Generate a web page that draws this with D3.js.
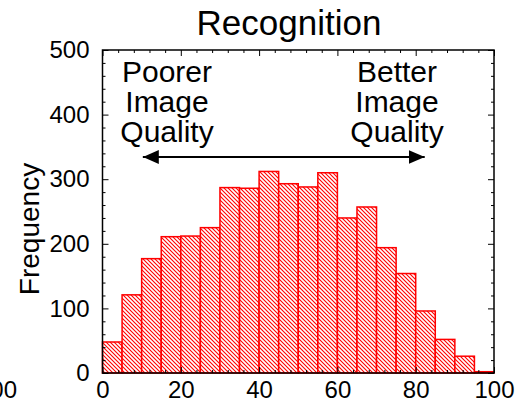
<!DOCTYPE html>
<html>
<head>
<meta charset="utf-8">
<script src="https://cdn.jsdelivr.net/npm/d3@7"></script>
<style>
  html, body { margin: 0; padding: 0; background: #fff; }
  svg { display: block; font-family: "Liberation Sans", Arial, sans-serif; }
</style>
</head>
<body>
<svg id="chart" width="532" height="406"></svg>
<script>
// ---- data ----
const binStarts = [0, 5, 10, 15, 20, 25, 30, 35, 40, 45, 50, 55, 60, 65, 70, 75, 80, 85, 90, 95];
const binWidth = 5;
const frequencies = [48, 121, 177, 211, 212, 225, 287, 286, 312, 293, 288, 310, 240, 257, 194, 154, 96, 52, 26, 2];
const xTicks = [0, 20, 40, 60, 80, 100];
const yTicks = [0, 100, 200, 300, 400, 500];
const title = "Recognition";
const yLabel = "Frequency";
const leftNote = ["Poorer", "Image", "Quality"];
const rightNote = ["Better", "Image", "Quality"];

// ---- layout ----
const svg = d3.select("#chart");
const L = 102.5, R = 494, T = 50, B = 373;
const x = d3.scaleLinear().domain([0, 100]).range([L, R]);
const y = d3.scaleLinear().domain([0, 500]).range([B, T]);

const defs = svg.append("defs");
const pat = defs.append("pattern")
  .attr("id", "hatch").attr("patternUnits", "userSpaceOnUse")
  .attr("width", 4).attr("height", 4);
pat.append("rect").attr("width", 4).attr("height", 4).attr("fill", "#fff");
pat.append("path").attr("d", "M-1,-1 L5,5 M-1,3 L1,5 M3,-1 L5,1")
  .attr("stroke", "#ff0000").attr("stroke-width", 1.1);

// bars
const bins = binStarts.map((s, i) => ({ x0: s, x1: s + binWidth, v: frequencies[i] }));
svg.append("g").selectAll("rect").data(bins).join("rect")
  .attr("x", d => x(d.x0))
  .attr("y", d => y(d.v))
  .attr("width", d => x(d.x1) - x(d.x0))
  .attr("height", d => y(0) - y(d.v))
  .attr("fill", "url(#hatch)")
  .attr("stroke", "#ff0000")
  .attr("stroke-width", 1.5);

// axes (ticks inward on all 4 sides)
const fontSize = 24;
function styleAxis(g) {
  g.select(".domain").remove();
  g.selectAll("line").attr("stroke", "#000").attr("stroke-width", 1);
  g.selectAll("text").attr("font-size", fontSize).attr("fill", "#000")
    .attr("font-family", "Liberation Sans, Arial, sans-serif");
}
const xMinor = d3.range(0, 101, 4).filter(v => v % 20 !== 0);
const yMinor = d3.range(0, 501, 20).filter(v => v % 100 !== 0);

svg.append("g").attr("transform", `translate(0,${B})`)
  .call(d3.axisBottom(x).tickValues(xTicks).tickSize(-6).tickPadding(8).tickFormat(d3.format("d")))
  .call(styleAxis);
svg.append("g").attr("transform", `translate(0,${B})`)
  .call(d3.axisBottom(x).tickValues(xMinor).tickSize(-3).tickFormat(""))
  .call(styleAxis);
svg.append("g").attr("transform", `translate(0,${T})`)
  .call(d3.axisTop(x).tickValues(xTicks).tickSize(-6).tickFormat(""))
  .call(styleAxis);
svg.append("g").attr("transform", `translate(0,${T})`)
  .call(d3.axisTop(x).tickValues(xMinor).tickSize(-3).tickFormat(""))
  .call(styleAxis);

svg.append("g").attr("transform", `translate(${L},0)`)
  .call(d3.axisLeft(y).tickValues(yTicks).tickSize(-6).tickPadding(13).tickFormat(d3.format("d")))
  .call(styleAxis);
svg.append("g").attr("transform", `translate(${L},0)`)
  .call(d3.axisLeft(y).tickValues(yMinor).tickSize(-3).tickFormat(""))
  .call(styleAxis);
svg.append("g").attr("transform", `translate(${R},0)`)
  .call(d3.axisRight(y).tickValues(yTicks).tickSize(-6).tickFormat(""))
  .call(styleAxis);
svg.append("g").attr("transform", `translate(${R},0)`)
  .call(d3.axisRight(y).tickValues(yMinor).tickSize(-3).tickFormat(""))
  .call(styleAxis);

// frame
svg.append("rect").attr("x", L).attr("y", T).attr("width", R - L).attr("height", B - T)
  .attr("fill", "none").attr("stroke", "#000").attr("stroke-width", 1.5);

// stray clipped label at left edge (from neighbouring panel)
svg.append("text").attr("x", 17).attr("y", 398).attr("text-anchor", "end")
  .attr("font-size", fontSize).text("100");

// title
svg.append("text").attr("x", 289).attr("y", 35).attr("text-anchor", "middle")
  .attr("font-size", 35).text(title);

// y label
svg.append("text").attr("transform", `translate(39,229) rotate(-90)`)
  .attr("text-anchor", "middle").attr("font-size", 28).text(yLabel);

// notes
function note(lines, cx) {
  const t = svg.append("text").attr("text-anchor", "middle").attr("font-size", 30);
  lines.forEach((s, i) => t.append("tspan").attr("x", cx).attr("y", 82 + i * 30).text(s));
}
note(leftNote, 167);
note(rightNote, 397);

// double arrow
const arrowY = 157;
const ax0 = x(10.3), ax1 = x(82.3);
defs.append("marker").attr("id", "ah").attr("viewBox", "0 0 16 14")
  .attr("refX", 16).attr("refY", 7).attr("markerWidth", 16).attr("markerHeight", 14)
  .attr("markerUnits", "userSpaceOnUse").attr("orient", "auto-start-reverse")
  .append("path").attr("d", "M0,0 L16,7 L0,14 Z").attr("fill", "#000");
svg.append("line").attr("x1", ax0).attr("x2", ax1).attr("y1", arrowY).attr("y2", arrowY)
  .attr("stroke", "#000").attr("stroke-width", 2)
  .attr("marker-start", "url(#ah)").attr("marker-end", "url(#ah)");
</script>
</body>
</html>
